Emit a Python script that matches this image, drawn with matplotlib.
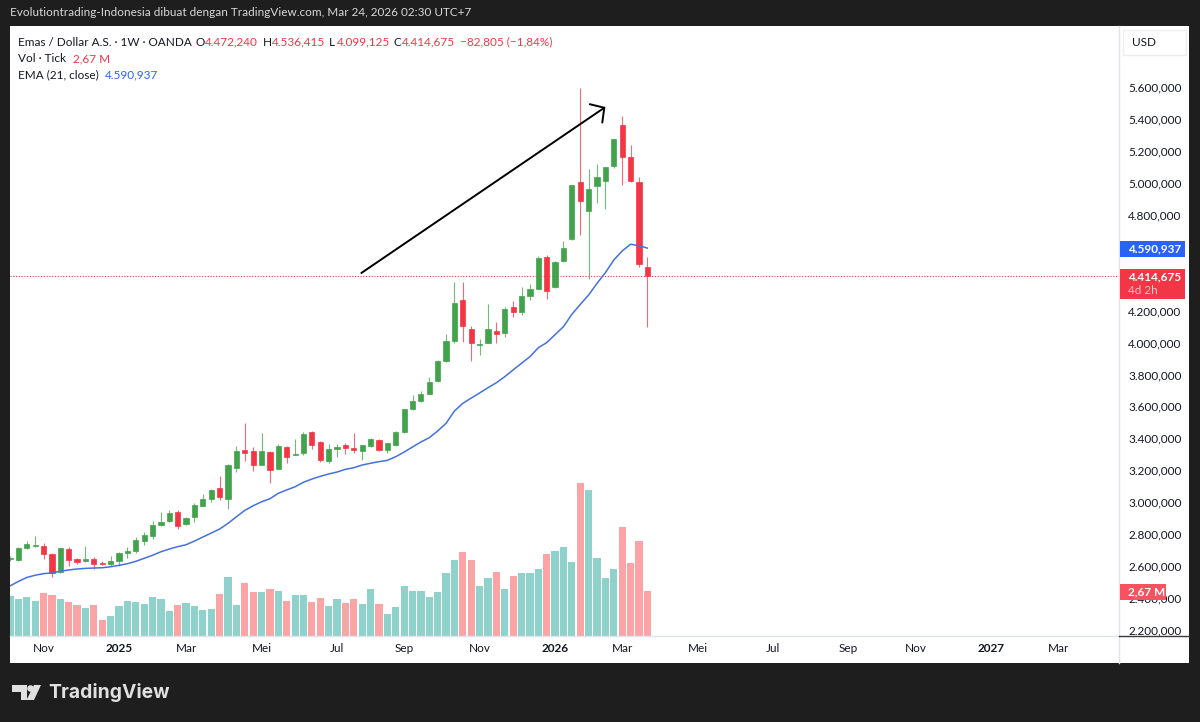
import matplotlib
matplotlib.use('Agg')
import matplotlib.pyplot as plt
import numpy as np
from matplotlib.patches import Rectangle, Polygon, Circle

# weekly candles XAUUSD
opens = [2645, 2638, 2713, 2726, 2726, 2678, 2563, 2707, 2642, 2634, 2642, 2619, 2615, 2630, 2680, 2693,
         2757, 2791, 2855, 2885, 2937, 2864, 2905, 2978, 3018, 3087, 3022, 3214, 3327, 3319, 3233, 3317,
         3208, 3348, 3298, 3310, 3438, 3377, 3258, 3335, 3358, 3341, 3321, 3354, 3391, 3327, 3360, 3438,
         3584, 3632, 3679, 3759, 3884, 4009, 4264, 4083, 3986, 3997, 4074, 4061, 4220, 4191, 4293, 4335,
         4537, 4349, 4510, 4646, 5007, 4825, 4981, 5011, 5107, 5360, 5163, 5007, 4472.240]
highs = [2665, 2720, 2755, 2786, 2743, 2680, 2713, 2718, 2651, 2724, 2655, 2630, 2663, 2688, 2720, 2780,
         2811, 2880, 2939, 2951, 2951, 2910, 2997, 3051, 3085, 3162, 3237, 3352, 3494, 3348, 3431, 3321,
         3362, 3352, 3396, 3440, 3444, 3385, 3364, 3364, 3371, 3433, 3358, 3402, 3396, 3371, 3448, 3586,
         3669, 3698, 3784, 3890, 4053, 4377, 4377, 4103, 4020, 4241, 4128, 4220, 4258, 4345, 4366, 4541,
         4548, 4512, 4633, 4986, 5593, 5084, 5115, 5100, 5276, 5418, 5234, 5038, 4536.415]
lows = [2635, 2634, 2705, 2718, 2642, 2534, 2559, 2603, 2611, 2628, 2582, 2605, 2601, 2603, 2653, 2684,
        2730, 2768, 2851, 2876, 2830, 2857, 2876, 2974, 3000, 3014, 2955, 3191, 3256, 3198, 3231, 3122,
        3206, 3243, 3294, 3294, 3335, 3254, 3245, 3283, 3304, 3308, 3264, 3346, 3321, 3308, 3352, 3435,
        3575, 3627, 3678, 3755, 3880, 3999, 4001, 3882, 3922, 3995, 3995, 4034, 4158, 4170, 4266, 4332,
        4270, 4343, 4506, 4642, 4673, 4399, 4875, 4837, 5090, 4988, 5007, 4474, 4099.125]
closes = [2653, 2715, 2740, 2730, 2676, 2555, 2711, 2640, 2626, 2642, 2615, 2615, 2630, 2682, 2695, 2763,
          2795, 2857, 2876, 2930, 2851, 2901, 2981, 3020, 3079, 3033, 3231, 3323, 3310, 3235, 3319, 3200,
          3352, 3283, 3302, 3427, 3358, 3266, 3333, 3348, 3340, 3329, 3358, 3396, 3327, 3371, 3442, 3582,
          3636, 3679, 3753, 3882, 4007, 4249, 4103, 3997, 3992, 4083, 4055, 4210, 4193, 4291, 4333, 4531,
          4324, 4504, 4591, 4984, 4888, 4959, 5038, 5098, 5272, 5163, 5011, 4491, 4414.675]
ema21 = [2476, 2504, 2529, 2543, 2553, 2557, 2568, 2576, 2582, 2586, 2588, 2590, 2596, 2605, 2615, 2630,
         2649, 2668, 2690, 2707, 2722, 2734, 2757, 2782, 2807, 2832, 2868, 2909, 2949, 2978, 3003, 3022,
         3056, 3077, 3097, 3125, 3145, 3162, 3177, 3189, 3206, 3216, 3233, 3244, 3254, 3262, 3285, 3314,
         3346, 3377, 3404, 3446, 3494, 3571, 3619, 3652, 3684, 3717, 3748, 3786, 3828, 3870, 3911, 3967,
         3999, 4049, 4099, 4176, 4238, 4297, 4370, 4437, 4516, 4573, 4615, 4606, 4590.937]
volumes = [2.39, 2.23, 2.33, 2.11, 2.57, 2.47, 2.23, 2.01, 1.87, 1.67, 1.87, 0.96, 1.17, 1.79, 2.11, 2.01,
           1.91, 2.33, 2.23, 1.49, 1.83, 1.97, 1.79, 1.55, 1.59, 2.53, 3.50, 1.87, 3.18, 2.63, 2.63, 2.81,
           2.67, 2.11, 2.43, 2.43, 2.01, 2.25, 1.79, 2.21, 1.97, 2.21, 1.91, 2.81, 1.91, 1.31, 1.73, 2.99,
           2.67, 2.67, 2.33, 2.63, 3.78, 4.54, 4.99, 4.54, 2.99, 3.46, 3.82, 2.81, 3.60, 3.78, 3.78, 3.98,
           4.92, 5.07, 5.31, 4.44, 9.11, 8.74, 4.66, 3.46, 3.98, 6.49, 4.34, 5.69, 2.67]

month_pos = [4, 13, 21, 30, 39, 47, 56, 65, 73, 82, 91, 100, 108, 117, 125]
month_labels = ['Nov', '2025', 'Mar', 'Mei', 'Jul', 'Sep', 'Nov', '2026', 'Mar', 'Mei', 'Jul', 'Sep', 'Nov', '2027', 'Mar']
# 4.400 and 4.600 sit under the price boxes in the picture
price_ticks = [2200, 2400, 2600, 2800, 3000, 3200, 3400, 3600, 3800, 4000, 4200, 4800, 5000, 5200, 5400, 5600]
last_close = closes[-1]
arrow_start = (41.9, 4435)
arrow_end = (71.0, 5474)

W, H = 1200, 722
GREEN = '#43a34c'
RED = '#f23645'
VOL_UP = '#8fd1cb'
VOL_DOWN = '#faa4a6'
BLUE = '#2962ff'
FONT = 'Lato'
FS = 8.5

plt.rcParams['font.family'] = [FONT, 'DejaVu Sans']

fig = plt.figure(figsize=(W / 100, H / 100), dpi=100, facecolor='#1e1e1e')


def box(x0, y0, x1, y1):
    # pixels from top left -> figure fraction rect
    return [x0 / W, 1 - y1 / H, (x1 - x0) / W, (y1 - y0) / H]


def label(x, y, s, **kw):
    kw.setdefault('color', '#131722')
    kw.setdefault('fontsize', FS)
    return fig.text(x / W, 1 - y / H, s, ha='left', va='center', **kw)


def rect(x0, y0, x1, y1, **kw):
    r = box(x0, y0, x1, y1)
    p = Rectangle((r[0], r[1]), r[2], r[3], transform=fig.transFigure, **kw)
    fig.add_artist(p)
    return p


# white panel behind everything
rect(10, 26, 1189, 663, facecolor='white', edgecolor='none', zorder=-1)

pos = box(10, 26, 1119, 636)
ax_vol = fig.add_axes(pos, facecolor='none', zorder=0)
ax = fig.add_axes(pos, facecolor='none', zorder=0.5)

x = np.arange(len(closes))
xlim = (0, 132.25)

# volume pane
colors_vol = [VOL_UP if c >= o else VOL_DOWN for o, c in zip(opens, closes)]
ax_vol.bar(x, volumes, width=0.86, color=colors_vol, linewidth=0)
ax_vol.set_xlim(*xlim)
ax_vol.set_ylim(0, 36.4)
ax_vol.axis('off')

# candles
colors = [GREEN if c >= o else RED for o, c in zip(opens, closes)]
ax.vlines(x, lows, highs, colors=colors, linewidth=0.8, alpha=0.75, zorder=2)
bottoms = np.minimum(opens, closes)
heights = np.abs(np.array(closes) - np.array(opens))
ax.bar(x, heights, bottom=bottoms, width=0.62, color=colors, edgecolor=colors, linewidth=0.5, zorder=3)

ax.plot(x, ema21, color='#4471dc', linewidth=1.1, zorder=4)
ax.axhline(last_close, color=RED, linewidth=0.8, linestyle=(0, (1, 1.5)), zorder=1)

ax.annotate('', xy=arrow_end, xytext=arrow_start,
            arrowprops=dict(arrowstyle='->,head_length=0.72,head_width=0.8', color='black', lw=1.4,
                            mutation_scale=10, shrinkA=0, shrinkB=0), zorder=5)

ax.set_xlim(*xlim)
ax.set_ylim(2162.6, 5981.2)
for s in ax.spines.values():
    s.set_visible(False)

ax.yaxis.tick_right()
ax.set_yticks(price_ticks)
ax.set_yticklabels([f'{v:,.3f}'.replace(',', ' ').replace('.', ',').replace(' ', '.') for v in price_ticks],
                   fontsize=FS, color='#131722')
ax.tick_params(axis='y', length=0, pad=6.5)
ax.set_xticks(month_pos)
ax.set_xticklabels(month_labels, fontsize=FS, color='#131722')
ax.tick_params(axis='x', length=0, pad=5)
for t in ax.get_xticklabels():
    if t.get_text().startswith('20'):
        t.set_fontweight('bold')

# pane borders
fig.add_artist(plt.Line2D([1119 / W, 1119 / W], [1 - 26 / H, 1 - 663 / H], color='#e0e3eb', lw=1, zorder=1))
fig.add_artist(plt.Line2D([10 / W, 1119 / W], [1 - 636 / H, 1 - 636 / H], color='#e0e3eb', lw=1, zorder=1))
fig.add_artist(plt.Line2D([1119 / W, 1189 / W], [1 - 636 / H, 1 - 636 / H], color='#3a3a3a', lw=1, zorder=1))

# title line
label(10, 13, 'Evolutiontrading-Indonesia dibuat dengan TradingView.com, Mar 24, 2026 02:30 UTC+7',
      color='#d8d8d8', zorder=4)

# legend rows
label(18, 42, 'Emas / Dollar A.S. · 1W · OANDA', zorder=4)
for xp, s, c in [(196, 'O', '#131722'), (205, '4.472,240', RED), (263, 'H', '#131722'), (272, '4.536,415', RED),
                 (329, 'L', '#131722'), (337, '4.099,125', RED), (394, 'C', '#131722'), (402, '4.414,675', RED),
                 (460, '−82,805 (−1,84%)', RED)]:
    label(xp, 42, s, color=c, zorder=4)
label(18, 59, 'Vol · Tick', zorder=4)
label(73, 59, '2,67 M', color=RED, zorder=4)
label(18, 75, 'EMA (21, close)', zorder=4)
label(105, 75, '4.590,937', color=BLUE, zorder=4)

# price scale boxes
rect(1123, 30, 1186, 55, facecolor='white', edgecolor='#eeeeee', lw=1, zorder=2)
label(1132, 43, 'USD', zorder=4)
rect(1120, 241, 1185, 257, facecolor=BLUE, edgecolor='none', zorder=2)
label(1128, 249, '4.590,937', color='white', fontweight='bold', zorder=4)
rect(1120, 269, 1185, 299, facecolor=RED, edgecolor='none', zorder=2)
label(1128, 277, '4.414,675', color='white', fontweight='bold', zorder=4)
label(1128, 291, '4d 2h', color='#fbc4c8', zorder=4)
rect(1120, 584, 1166, 600, facecolor='#f7525f', edgecolor='none', zorder=2)
label(1128, 592, '2,67 M', color='white', fontweight='bold', zorder=4)

# logo
logo = '#e0e0e0'
fig.add_artist(Polygon([(12 / W, 1 - 685 / H), (27 / W, 1 - 685 / H), (27 / W, 1 - 700 / H), (20.5 / W, 1 - 700 / H),
                        (20.5 / W, 1 - 691.5 / H), (12 / W, 1 - 691.5 / H)], closed=True,
                       transform=fig.transFigure, facecolor=logo, edgecolor='none', zorder=2))
fig.add_artist(Polygon([(34 / W, 1 - 685 / H), (41 / W, 1 - 685 / H), (34 / W, 1 - 700 / H), (26.5 / W, 1 - 700 / H)],
                       closed=True, transform=fig.transFigure, facecolor=logo, edgecolor='none', zorder=2))
ax_logo = fig.add_axes(box(27, 685, 34, 692), facecolor='none', zorder=2)
ax_logo.add_patch(Circle((0.5, 0.5), 0.47, facecolor=logo, edgecolor='none'))
ax_logo.set_xlim(0, 1)
ax_logo.set_ylim(0, 1)
ax_logo.axis('off')
label(48, 692, 'TradingView', color=logo, fontsize=13.9, fontweight='bold', family=['Inter', 'DejaVu Sans'], zorder=4)

fig.savefig('out.png', dpi=100, facecolor=fig.get_facecolor())
